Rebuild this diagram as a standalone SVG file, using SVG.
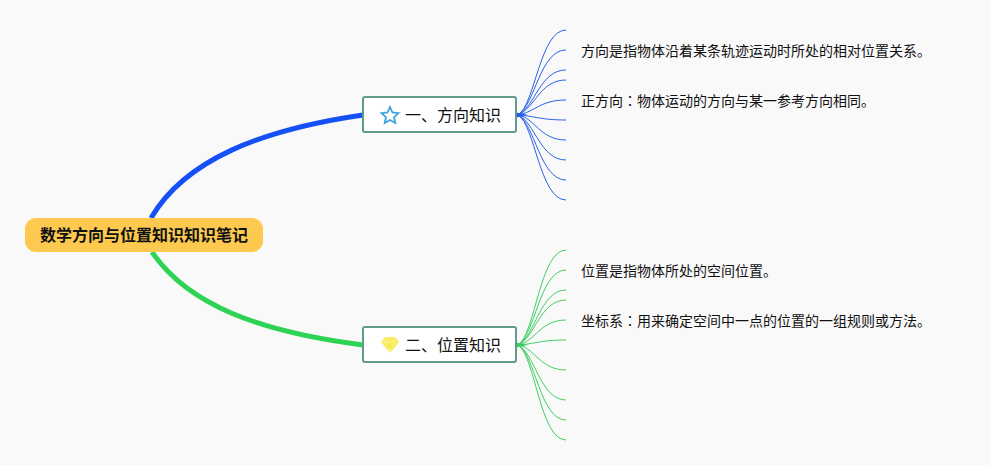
<svg xmlns="http://www.w3.org/2000/svg" width="991" height="465" viewBox="0 0 991 465">
<style>
text{font-family:"Noto Sans CJK SC","Liberation Sans",sans-serif;fill:#111}
.leaf{font-size:14px}
.t{font-size:16px}
.c{font-family:"Noto Sans CJK TC","Noto Sans CJK SC",sans-serif}
.box{fill:#fff;stroke:#639a8e;stroke-width:2}
.b{fill:none;stroke:#2a62e6;stroke-width:1}
.g{fill:none;stroke:#3fcf63;stroke-width:1}
</style>
<rect width="991" height="465" fill="#f9f9f9"/>
<g id="connectors">
<path d="M151 218C185 160 260 130 363 115" fill="none" stroke="#1450f5" stroke-width="5"/>
<path d="M152 252C188 305 260 332 363 345" fill="none" stroke="#2ed354" stroke-width="5"/>
<path d="M516 112.500L528 115L516 117.500Z" fill="#1450f5"/>
<path d="M516 342.500L528 345L516 347.500Z" fill="#2ed354"/>
<g class="b">
<path d="M518 115C535 105 540 30 566 30"/>
<path d="M518 115C535 105 540 50 566 50"/>
<path d="M518 115C535 107 540 70 566 70"/>
<path d="M518 115C535 108 540 80 566 80"/>
<path d="M518 115C535 112 540 100 566 100"/>
<path d="M518 115C535 116 540 120 566 120"/>
<path d="M518 115C535 118 540 140 566 140"/>
<path d="M518 115C535 122 540 160 566 160"/>
<path d="M518 115C535 124 540 180 566 180"/>
<path d="M518 115C535 125 540 200 566 200"/>
</g>
<g class="g">
<path d="M518 345C535 335 540 250 566 250"/>
<path d="M518 345C535 335 540 270 566 270"/>
<path d="M518 345C535 337 540 290 566 290"/>
<path d="M518 345C535 338 540 300 566 300"/>
<path d="M518 345C535 342 540 320 566 320"/>
<path d="M518 345C535 344 540 340 566 340"/>
<path d="M518 345C535 348 540 370 566 370"/>
<path d="M518 345C535 353 540 400 566 400"/>
<path d="M518 345C535 354 540 420 566 420"/>
<path d="M518 345C535 355 540 440 566 440"/>
</g>
</g>
<g id="root">
<rect x="25" y="218" width="238" height="34" rx="11" fill="#fdc94f"/>
<text x="144" y="241" text-anchor="middle" font-size="16" font-weight="700">数学方向与位置知识知识笔记</text>
</g>
<g id="node-1">
<rect class="box" x="363" y="97" width="153" height="35" rx="2"/>
<path d="M390 107L392.500 112.500L398.500 113.200L394 117.200L395.300 123L390 120L384.700 123L386 117.200L381.500 113.200L387.500 112.500Z" fill="none" stroke="#3aa5dc" stroke-width="1.800"/>
<text class="t" x="405" y="121">一、方向知识</text>
</g>
<g id="node-2">
<rect class="box" x="363" y="327" width="153" height="35" rx="2"/>
<path d="M385 337H395L399 342L390 353L381 342Z" fill="#f8ea55"/>
<path d="M381.500 342H398.500M386 338L385 342L390 352L395 342L394 338M385 342L390 337.500L395 342" fill="none" stroke="#fff3a0" stroke-width="0.800"/>
<text class="t" x="405" y="351">二、位置知识</text>
</g>
<g id="leaf-1"><text class="leaf" x="581" y="56">方向是指物体沿着某条轨迹运动时所处的相对位置关系。</text></g>
<g id="leaf-2"><text class="leaf" x="581" y="106">正方向<tspan class="c">：</tspan>物体运动的方向与某一参考方向相同。</text></g>
<g id="leaf-3"><text class="leaf" x="581" y="276">位置是指物体所处的空间位置。</text></g>
<g id="leaf-4"><text class="leaf" x="581" y="326">坐标系<tspan class="c">：</tspan>用来确定空间中一点的位置的一组规则或方法。</text></g>
</svg>
